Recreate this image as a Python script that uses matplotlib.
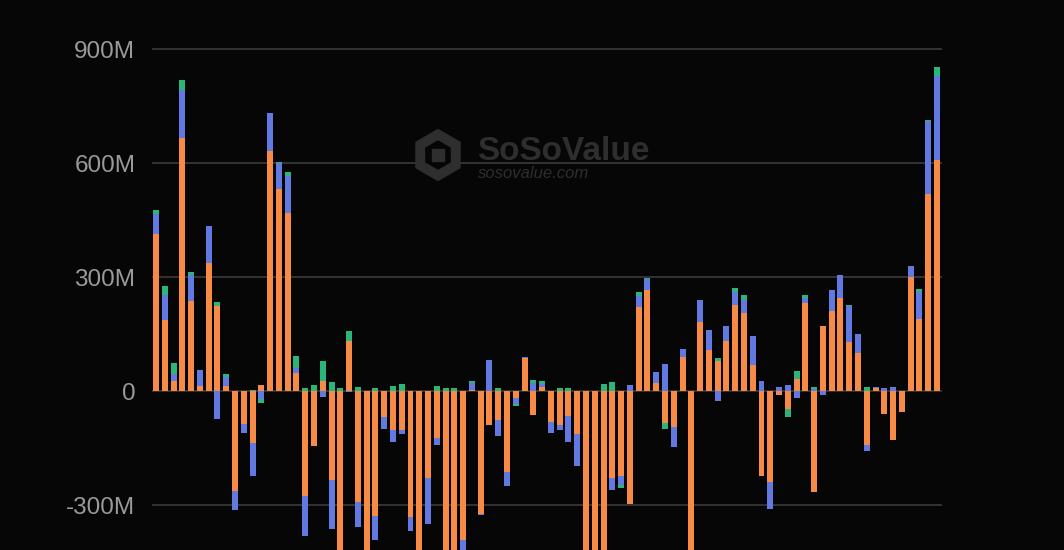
import matplotlib
matplotlib.use("Agg")
import matplotlib.pyplot as plt
import matplotlib.patches as mpatches
import numpy as np

# daily net flows, in millions (stacked per sign)
orange = [413, 187, 27, 665, 237, 13, 336, 225, 14, -263,
          -87, -136, 16, 631, 533, 468, 47, -277, -145, 27,
          -233, -520, 132, -292, -480, -329, -68, -101, -103, -331,
          -560, -228, -123, -450, -470, -393, 4, -323, -90, -76,
          -213, -18, 88, -63, 11, -81, -90, -66, -112, -650,
          -600, -520, -229, -222, -296, 222, 266, 22, -84, -94,
          91, -700, 181, 108, 79, 132, 227, 205, 69, -224,
          -239, -11, -47, 32, 233, -265, 172, 212, 246, 130,
          99, -142, 7, -59, -129, -56, 299, 190, 519, 607]
blue = [54, 66, 17, 128, 69, 42, 99, -74, 24, -49,
        -23, -88, -22, 101, 68, 98, 13, -103, 0, -15,
        -129, 0, -3, -66, 0, -63, -31, -33, -9, -37,
        0, -121, -19, 0, 0, -60, 18, -4, 83, -41,
        -37, -17, 3, 22, 9, -29, -13, -68, -84, 0,
        0, 0, -32, -26, 16, 28, 28, 29, 71, -53,
        19, 0, 59, 54, -26, 40, 35, 35, 75, 27,
        -70, 11, 16, -18, 13, 5, -11, 54, 60, 95,
        50, -16, 3, 7, 10, 0, 31, 70, 192, 221]
green = [10, 24, 29, 26, 7, 0, 0, 10, 7, 0,
         0, 4, -8, 0, 2, 11, 33, 7, 16, 53,
         25, 7, 26, 11, 0, 7, 0, 14, 18, 0,
         0, 0, 14, 7, 7, 0, 5, 0, 0, 9,
         0, -4, 0, 7, 6, 0, 7, 7, 0, 0,
         0, 18, 23, -6, 0, 10, 3, 0, -15, 0,
         0, 0, 0, 0, 9, 0, 9, 12, 0, 0,
         0, 0, -20, 21, 7, 7, 0, 0, 0, 2,
         0, 10, 2, 0, 0, 0, 0, 8, 3, 26]

yticks = [-300, 0, 300, 600, 900]
ytick_labels = ["-300M", "0", "300M", "600M", "900M"]

series = [(orange, "#F78B45"), (blue, "#6179E0"), (green, "#2AB57A")]

BG = "#060606"
fig = plt.figure(figsize=(10.64, 5.5), dpi=100, facecolor=BG)
ax = fig.add_axes([152 / 1064, 0, 790 / 1064, 1])
ax.set_facecolor(BG)

x = np.arange(len(orange))
pos_base = np.zeros(len(x))
neg_base = np.zeros(len(x))
for vals, col in series:
    v = np.array(vals, dtype=float)
    base = np.where(v >= 0, pos_base, neg_base)
    ax.bar(x, v, bottom=base, width=0.68, color=col, linewidth=0, zorder=3)
    pos_base += np.where(v > 0, v, 0)
    neg_base += np.where(v < 0, v, 0)

ax.set_xlim(-0.46, len(x) - 0.43)
ax.set_ylim(-418, 1029)
ax.set_yticks(yticks)
ax.set_yticklabels(ytick_labels)
ax.set_xticks([])
ax.grid(axis="y", color="#3a3a3a", linewidth=1.2, zorder=0)
ax.tick_params(axis="y", length=0, pad=12, labelsize=17.5, labelcolor="#9a9a9a")
for lab in ax.get_yticklabels():
    lab.set_family("Liberation Sans")
for s in ax.spines.values():
    s.set_visible(False)

# watermark
wm = "#2e2e2e"
fig.text(477 / 1064, 1 - 167 / 550, "SoSoValue", color=wm, fontsize=24,
         fontweight="bold", family="Liberation Sans", ha="left", va="bottom", zorder=1)
fig.text(478 / 1064, 1 - 166 / 550, "sosovalue.com", color=wm, fontsize=12,
         style="italic", family="Liberation Sans", ha="left", va="top", zorder=1)
lax = fig.add_axes([410 / 1064, 1 - 185 / 550, 56 / 1064, 60 / 550])
lax.set_aspect("equal")
lax.axis("off")
lax.add_patch(mpatches.RegularPolygon((0, 0), 6, radius=1, color=wm))
lax.add_patch(mpatches.RegularPolygon((0, 0), 6, radius=0.55, color=BG))
lax.add_patch(mpatches.Rectangle((-0.25, -0.25), 0.5, 0.5, color=wm))
lax.set_xlim(-1.1, 1.1)
lax.set_ylim(-1.1, 1.1)

fig.savefig("out.png", dpi=100, facecolor=BG)
